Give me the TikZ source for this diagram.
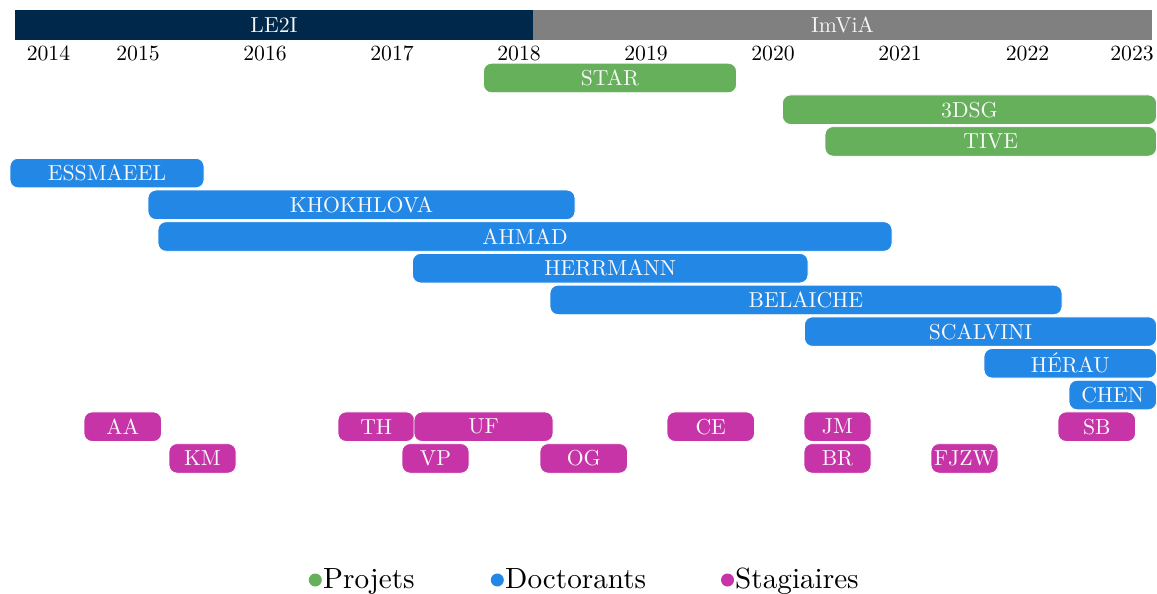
\documentclass[tikz,border=0pt]{standalone}
\usepackage{fontspec}
\setmainfont{lmroman10-regular.otf}
\usepackage{xcolor}
\definecolor{navy}{RGB}{0,40,75}
\definecolor{grayb}{RGB}{128,128,128}
\definecolor{projcol}{RGB}{102,175,91}
\definecolor{doccol}{RGB}{35,135,230}
\definecolor{stagcol}{RGB}{199,52,168}
\begin{document}
\begin{tikzpicture}[x=1pt,y=-1pt,
  txt/.style={font=\fontsize{21.7}{26}\selectfont},
  band/.style={txt, inner sep=0pt, minimum height=30pt, text=white!92!gray},
  barbox/.style={txt, rounded corners=8pt, inner sep=0pt, minimum height=29.5pt, draw=white, line width=0.8pt, text=white!95!gray},
  proj/.style={barbox, fill=projcol},
  doc/.style={barbox, fill=doccol},
  stag/.style={barbox, fill=stagcol},
  year/.style={txt, anchor=base, inner sep=0pt},
  legend/.style={font=\fontsize{29.2}{34}\selectfont, anchor=base west, inner sep=0pt},
  dot/.style={circle, inner sep=0pt, minimum size=13pt}]
\useasboundingbox (0,0) rectangle (1157,594);
% banner
\node[band, fill=navy, minimum width=518pt] (le2i) at (274,25) {LE2I};
\node[band, fill=grayb, minimum width=619pt] (imvia) at (842.5,25) {ImViA};
% years
\node[year] (y2014) at (48.5,60) {2014};
\node[year] (y2015) at (138,60) {2015};
\node[year] (y2016) at (265,60) {2016};
\node[year] (y2017) at (392,60) {2017};
\node[year] (y2018) at (519,60) {2018};
\node[year] (y2019) at (646,60) {2019};
\node[year] (y2020) at (773,60) {2020};
\node[year] (y2021) at (900,60) {2021};
\node[year] (y2022) at (1027.5,60) {2022};
\node[year] (y2023) at (1132,60) {2023};
% projects
\node[proj, minimum width={736.5-483.5}] (star) at ({(483.5+736.5)/2},78) {STAR};
\node[proj, minimum width={1156.5-782.5}] (dsg) at ({(782.5+1156.5)/2},109.7) {3DSG};
\node[proj, minimum width={1156.5-825}] (tive) at ({(825+1156.5)/2},141.4) {TIVE};
% doctorants
\node[doc, minimum width={204-10}] (essmaeel) at ({(10+204)/2},173.1) {ESSMAEEL};
\node[doc, minimum width={575-148}] (khokhlova) at ({(148+575)/2},204.8) {KHOKHLOVA};
\node[doc, minimum width={892-158}] (ahmad) at ({(158+892)/2},236.5) {AHMAD};
\node[doc, minimum width={808-412.5}] (herrmann) at ({(412.5+808)/2},268.2) {HERRMANN};
\node[doc, minimum width={1062-550}] (belaiche) at ({(550+1062)/2},299.9) {BELAICHE};
\node[doc, minimum width={1156.5-804.5}] (scalvini) at ({(804.5+1156.5)/2},331.6) {SCALVINI};
\node[doc, minimum width={1156.5-984}] (herau) at ({(984+1156.5)/2},363.3) {HÉRAU};
\node[doc, minimum width={1156.5-1069}] (chen) at ({(1069+1156.5)/2},395) {CHEN};
% stagiaires row 1
\node[stag, minimum width={161.5-84}] (aa) at ({(84+161.5)/2},426.7) {AA};
\node[stag, minimum width={414.5-338}] (th) at ({(338+414.5)/2},426.7) {TH};
\node[stag, minimum width={553-414}] (uf) at ({(414+553)/2},426.7) {UF};
\node[stag, minimum width={754.5-667}] (ce) at ({(667+754.5)/2},426.7) {CE};
\node[stag, minimum width={871-804}] (jm) at ({(804+871)/2},426.7) {JM};
\node[stag, minimum width={1135.5-1058}] (sb) at ({(1058+1135.5)/2},426.7) {SB};
% stagiaires row 2
\node[stag, minimum width={236-169}] (km) at ({(169+236)/2},458.4) {KM};
\node[stag, minimum width={469-402}] (vp) at ({(402+469)/2},458.4) {VP};
\node[stag, minimum width={627.5-540}] (og) at ({(540+627.5)/2},458.4) {OG};
\node[stag, minimum width={871-804}] (br) at ({(804+871)/2},458.4) {BR};
\node[stag, minimum width={998-931}] (fjzw) at ({(931+998)/2},458.4) {FJZW};
% legend
\node[dot, fill=projcol] (dproj) at (315.3,580) {};
\node[legend] (lproj) at (323,588) {Projets};
\node[dot, fill=doccol] (ddoc) at (497.3,580) {};
\node[legend] (ldoc) at (505,588) {Doctorants};
\node[dot, fill=stagcol] (dstag) at (727.5,580) {};
\node[legend] (lstag) at (735,588) {Stagiaires};
\end{tikzpicture}
\end{document}
